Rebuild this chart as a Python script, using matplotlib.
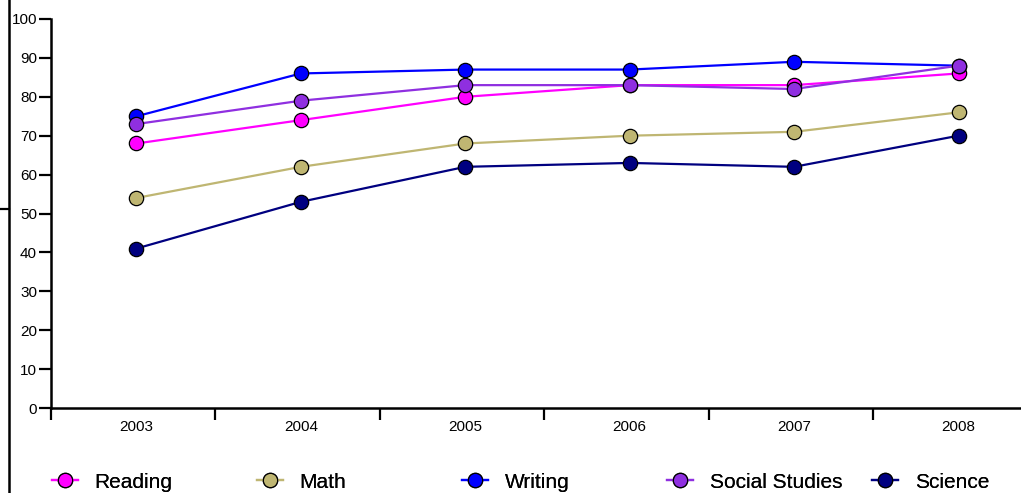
import matplotlib.pyplot as plt
from matplotlib.lines import Line2D

plt.rcParams["font.family"] = ["Liberation Sans", "DejaVu Sans"]

years = ["2003", "2004", "2005", "2006", "2007", "2008"]
reading = [68, 74, 80, 83, 83, 86]
math = [54, 62, 68, 70, 71, 76]
writing = [75, 86, 87, 87, 89, 88]
social_studies = [73, 79, 83, 83, 82, 88]
science = [41, 53, 62, 63, 62, 70]

series = [
    ("Reading", reading, "#ff00ff"),
    ("Math", math, "#bfb672"),
    ("Writing", writing, "#0000ff"),
    ("Social Studies", social_studies, "#8f2fe0"),
    ("Science", science, "#000080"),
]

W, H = 1021, 493
fig = plt.figure(figsize=(W / 100, H / 100), dpi=100)
ax = fig.add_axes([51 / W, (H - 408) / H, 1 - 51 / W, (408 - 19) / H])

x = list(range(len(years)))
handles = []
for name, vals, color in series:
    (ln,) = ax.plot(x, vals, color=color, lw=1.6, marker="o", markersize=10.3,
                    markerfacecolor=color, markeredgecolor="black",
                    markeredgewidth=0.9, label=name, clip_on=False, zorder=3)
    handles.append(ln)

ax.set_ylim(0, 100)
ax.set_xlim(-0.52, 5.38)
ax.set_yticks(range(0, 101, 10))
ax.tick_params(axis="y", length=8.6, width=1.6, pad=1.5, labelsize=11,
               direction="out")
ax.set_xticks(x)
ax.set_xticklabels(years)
ax.tick_params(axis="x", which="major", length=0, pad=8.5, labelsize=11)
ax.set_xticks([i - 0.52 for i in x], minor=True)
ax.tick_params(axis="x", which="minor", length=8.6, width=1.6, direction="out")
for side in ["top", "right"]:
    ax.spines[side].set_visible(False)
for side in ["left", "bottom"]:
    ax.spines[side].set_linewidth(1.8)

# outer frame line on the far left
fig.add_artist(Line2D([9 / W, 9 / W], [0, 1], color="black", lw=1.8,
                      transform=fig.transFigure))
fig.add_artist(Line2D([0, 9 / W], [(H - 209) / H] * 2, color="black", lw=1.6,
                      transform=fig.transFigure))

# legend, one evenly spaced entry per series
for i, h in enumerate(handles):
    lg = fig.legend([h], [h.get_label()], loc="center left",
                    bbox_to_anchor=((52 + 205 * i) / W, (H - 482) / H),
                    frameon=False, fontsize=15, handlelength=1.25,
                    handletextpad=0.8, borderaxespad=0, borderpad=0)
    fig.add_artist(lg)

fig.savefig("out.png", dpi=100)
